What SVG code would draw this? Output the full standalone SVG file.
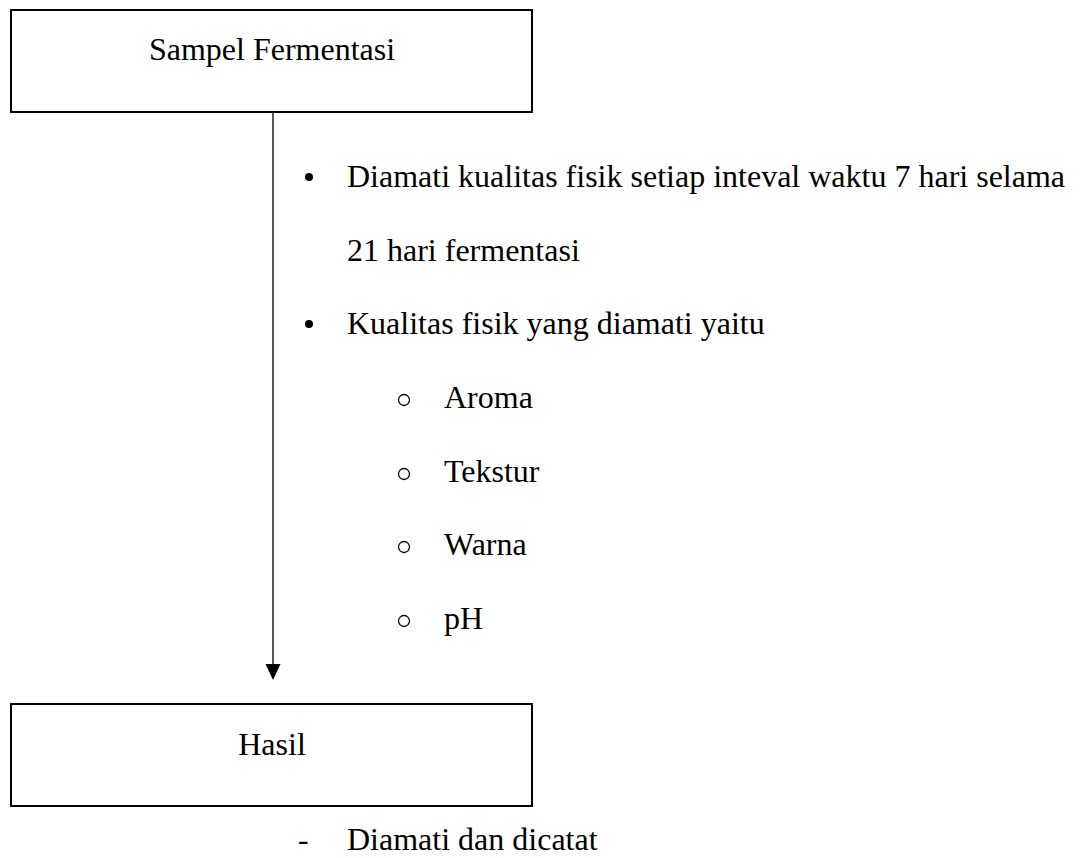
<svg xmlns="http://www.w3.org/2000/svg" width="1080" height="858" viewBox="0 0 1080 858">
<style>
.box{fill:#fff;stroke:#000;stroke-width:2}
.t{font-family:"Liberation Serif","Times New Roman",serif;font-size:32px;fill:#000}
.c{text-anchor:middle}
.sub{fill:none;stroke:#000;stroke-width:1.3}
</style>
<rect width="1080" height="858" fill="#fff"/>
<g id="connectors">
<line x1="273" y1="112" x2="273" y2="666" stroke="#000" stroke-width="1.3"/>
<path d="M265.5,664 L280.5,664 L273,680 Z" fill="#000"/>
</g>
<g id="node-sampel">
<rect class="box" x="11" y="10" width="521" height="102"/>
<text class="t c" x="272" y="60">Sampel Fermentasi</text>
</g>
<g id="notes">
<circle cx="309" cy="177" r="4" fill="#000"/>
<text class="t" x="347" y="187">Diamati kualitas fisik setiap inteval waktu 7 hari selama</text>
<text class="t" x="347" y="261">21 hari fermentasi</text>
<circle cx="309" cy="324" r="4" fill="#000"/>
<text class="t" x="347" y="334">Kualitas fisik yang diamati yaitu</text>
<circle cx="404" cy="400" r="5.5" class="sub"/>
<text class="t" x="444" y="408">Aroma</text>
<circle cx="404" cy="474" r="5.5" class="sub"/>
<text class="t" x="444" y="482">Tekstur</text>
<circle cx="404" cy="547" r="5.5" class="sub"/>
<text class="t" x="444" y="555">Warna</text>
<circle cx="404" cy="621" r="5.5" class="sub"/>
<text class="t" x="444" y="629">pH</text>
</g>
<g id="node-hasil">
<rect class="box" x="11" y="704" width="521" height="102"/>
<text class="t c" x="272" y="755">Hasil</text>
</g>
<g id="note-hasil">
<text class="t" x="298" y="850">-</text>
<text class="t" x="347" y="850">Diamati dan dicatat</text>
</g>
</svg>
